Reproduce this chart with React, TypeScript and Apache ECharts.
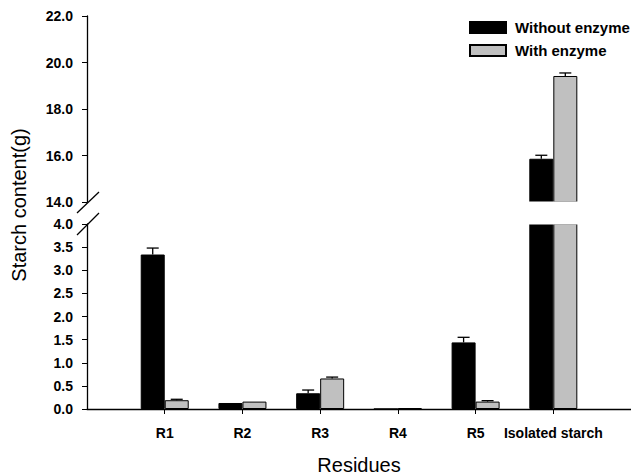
import React, { useEffect, useRef } from "react";
import * as echarts from "echarts";

const categories = ["R1", "R2", "R3", "R4", "R5", "Isolated starch"];
const withoutEnzyme = [3.34, 0.13, 0.34, 0, 1.44, 15.86];
const withoutEnzymeErr = [0.14, 0, 0.07, 0, 0.11, 0.15];
const withEnzyme = [0.19, 0.16, 0.66, 0.02, 0.16, 19.42];
const withEnzymeErr = [0.02, 0, 0.03, 0, 0.02, 0.13];
const upperTicks = { min: 14, max: 22, interval: 2 };
const lowerTicks = { min: 0, max: 4, interval: 0.5 };
const xRange = { min: 0, max: 7.154 };

const FONT = "Liberation Sans, Arial, sans-serif";
const BAR_W = 24;

export default function App() {
  const ref = useRef<HTMLDivElement>(null);
  useEffect(() => {
    if (!ref.current) return;
    const chart = echarts.init(ref.current, null, { renderer: "svg" });
    const positions = categories.map((_, i) => i + 1);

    const upperData = (vals: number[]) =>
      vals.map((v, i) => [positions[i], v]).filter((d) => d[1] >= upperTicks.min);
    const lowerData = (vals: number[]) => vals.map((v, i) => [positions[i], v]);

    const errData = (vals: number[], errs: number[], upper: boolean) =>
      vals
        .map((v, i) => [positions[i], v, errs[i]])
        .filter((d) => d[2] > 0 && (upper ? d[1] >= upperTicks.min : d[1] <= lowerTicks.max));

    const errSeries = (vals: number[], errs: number[], upper: boolean, offset: number) => ({
      type: "custom",
      xAxisIndex: upper ? 0 : 1,
      yAxisIndex: upper ? 0 : 1,
      data: errData(vals, errs, upper),
      encode: { x: 0, y: 1 },
      z: 5,
      renderItem: (params: any, api: any) => {
        const idx = api.value(0);
        const v = api.value(1);
        const e = api.value(2);
        const base = api.coord([idx, v]);
        const top = api.coord([idx, v + e]);
        const x = base[0] + offset;
        return {
          type: "group",
          children: [
            { type: "line", shape: { x1: x, y1: base[1], x2: x, y2: top[1] }, style: { stroke: "#000", lineWidth: 1.3 } },
            { type: "line", shape: { x1: x - 6, y1: top[1], x2: x + 6, y2: top[1] }, style: { stroke: "#000", lineWidth: 1.3 } },
          ],
        };
      },
    });

    const yAxisCommon = {
      type: "value",
      position: "left",
      splitLine: { show: false },
      axisLine: { show: true, onZero: false, lineStyle: { color: "#000", width: 1.3 } },
      axisTick: { show: true, inside: false, length: 5, lineStyle: { color: "#000", width: 1 } },
      axisLabel: {
        margin: 14,
        color: "#000",
        fontWeight: "bold",
        fontSize: 14,
        fontFamily: FONT,
        formatter: (v: number) => v.toFixed(1),
      },
    };

    const xAxisCommon = {
      type: "value",
      ...xRange,
      position: "bottom",
      splitLine: { show: false },
    };

    const barStyle = (color: string) => ({ color, borderColor: "#000", borderWidth: 1 });

    chart.setOption({
      animation: false,
      backgroundColor: "#fff",
      grid: [
        { left: 87, width: 556, top: 16, height: 186, outerBoundsMode: "none", containLabel: false },
        { left: 87, width: 556, top: 224, height: 185, outerBoundsMode: "none", containLabel: false },
      ],
      legend: {
        orient: "vertical",
        left: 469,
        top: 20,
        padding: 0,
        itemWidth: 36,
        itemHeight: 11,
        itemGap: 8,
        icon: "rect",
        data: ["Without enzyme", "With enzyme"],
        textStyle: { color: "#000", fontWeight: "bold", fontSize: 15, fontFamily: FONT, padding: [0, 0, 0, 4] },
      },
      xAxis: [
        { ...xAxisCommon, gridIndex: 0, show: false },
        {
          ...xAxisCommon,
          gridIndex: 1,
          axisLine: { show: true, onZero: false, lineStyle: { color: "#000", width: 1.3 } },
          axisTick: { show: true, inside: false, length: 5, customValues: positions, lineStyle: { color: "#000" } },
          axisLabel: {
            customValues: positions,
            formatter: (v: number) => categories[Math.round(v) - 1] ?? "",
            margin: 17,
            color: "#000",
            fontWeight: "bold",
            fontSize: 14,
            fontFamily: FONT,
          },
          name: "Residues",
          nameLocation: "middle",
          nameGap: 46,
          nameTextStyle: { color: "#000", fontSize: 20, fontFamily: FONT, padding: [0, 12, 0, 0] },
        },
      ],
      yAxis: [
        { ...yAxisCommon, gridIndex: 0, ...upperTicks },
        { ...yAxisCommon, gridIndex: 1, ...lowerTicks },
      ],
      graphic: [
        {
          type: "text",
          x: 19,
          y: 205,
          rotation: Math.PI / 2,
          style: { text: "Starch content(g)", font: `20px ${FONT}`, fill: "#000", align: "center", verticalAlign: "middle" },
        },
        // white band of the axis break, hiding bar edges where they are cut
        { type: "rect", z: 100, shape: { x: 100, y: 201.6, width: 500, height: 22.8 }, style: { fill: "#fff" } },
        // keep the empty right margin of the plot clean
        { type: "rect", z: 100, shape: { x: 600, y: 200, width: 31, height: 207.5 }, style: { fill: "#fff" } },
        { type: "line", z: 101, shape: { x1: 77, y1: 213, x2: 99, y2: 192 }, style: { stroke: "#000", lineWidth: 1.3 } },
        { type: "line", z: 101, shape: { x1: 77, y1: 235, x2: 99, y2: 213 }, style: { stroke: "#000", lineWidth: 1.3 } },
      ],
      series: [
        { name: "Without enzyme", type: "bar", xAxisIndex: 0, yAxisIndex: 0, barWidth: BAR_W, barGap: "0%", data: upperData(withoutEnzyme), itemStyle: barStyle("#000") },
        { name: "With enzyme", type: "bar", xAxisIndex: 0, yAxisIndex: 0, barWidth: BAR_W, barGap: "0%", data: upperData(withEnzyme), itemStyle: barStyle("#c0c0c0") },
        { name: "Without enzyme", type: "bar", xAxisIndex: 1, yAxisIndex: 1, barWidth: BAR_W, barGap: "0%", data: lowerData(withoutEnzyme), itemStyle: barStyle("#000") },
        { name: "With enzyme", type: "bar", xAxisIndex: 1, yAxisIndex: 1, barWidth: BAR_W, barGap: "0%", data: lowerData(withEnzyme), itemStyle: barStyle("#c0c0c0") },
        errSeries(withoutEnzyme, withoutEnzymeErr, true, -BAR_W / 2),
        errSeries(withEnzyme, withEnzymeErr, true, BAR_W / 2),
        errSeries(withoutEnzyme, withoutEnzymeErr, false, -BAR_W / 2),
        errSeries(withEnzyme, withEnzymeErr, false, BAR_W / 2),
      ],
    });
    return () => chart.dispose();
  }, []);
  return <div ref={ref} style={{ position: "absolute", left: 0, top: 0, width: 631, height: 475 }} />;
}
